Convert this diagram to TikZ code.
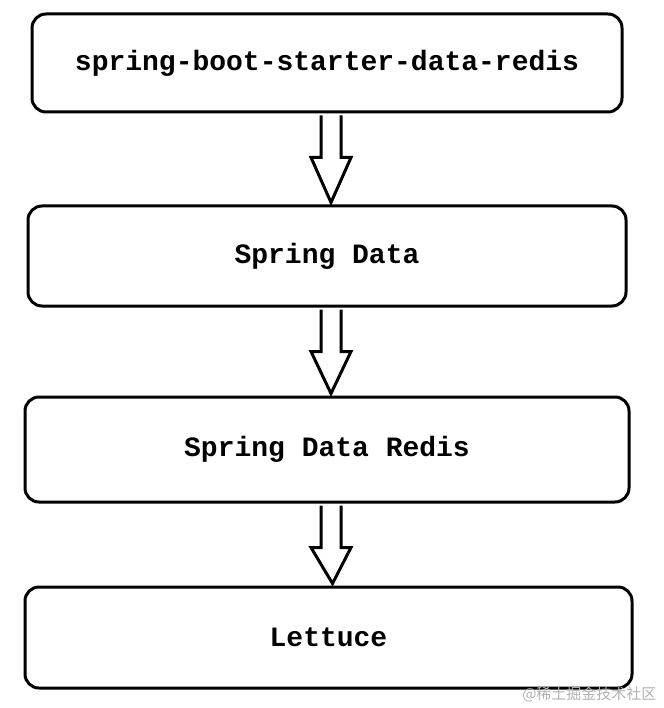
\documentclass[tikz,border=0pt]{standalone}
\usepackage{fontspec}
\setmonofont{Liberation Mono}
\newfontfamily\cjk{Noto Sans CJK SC}
\usetikzlibrary{calc}
\begin{document}
\begin{tikzpicture}[x=1pt,y=-1pt,
 box/.style={draw,line width=3pt,rounded corners=14pt,inner sep=0pt,font=\ttfamily\bfseries\fontsize{28}{30}\selectfont},
 blk/.style={draw,line width=3pt,fill=white,line join=miter}]
\useasboundingbox (0,0) rectangle (663,708);
\node[box,minimum width=590pt,minimum height=98pt] (a) at (327,63) {spring-boot-starter-data-redis};
\node[box,minimum width=598pt,minimum height=100pt] (b) at (327,256) {Spring Data};
\node[box,minimum width=604pt,minimum height=105pt] (c) at (327,449.5) {Spring Data Redis};
\node[box,minimum width=607pt,minimum height=101pt] (d) at (328.5,637.5) {Lettuce};
\foreach \u/\v in {a/b,b/c,c/d}{
 \draw[blk] ($(\u.south)+(-6,2)$) -- ($(\u.south)+(-6,44)$) -- ($(\u.south)+(-16,44)$) -- ($(\v.north)+(4,-2)$) -- ($(\u.south)+(24,44)$) -- ($(\u.south)+(14,44)$) -- ($(\u.south)+(14,2)$);
}
\node[font=\cjk\fontsize{15}{16}\selectfont,text=gray!60,anchor=east] (w) at (660,694) {@稀土掘金技术社区};
\end{tikzpicture}
\end{document}
